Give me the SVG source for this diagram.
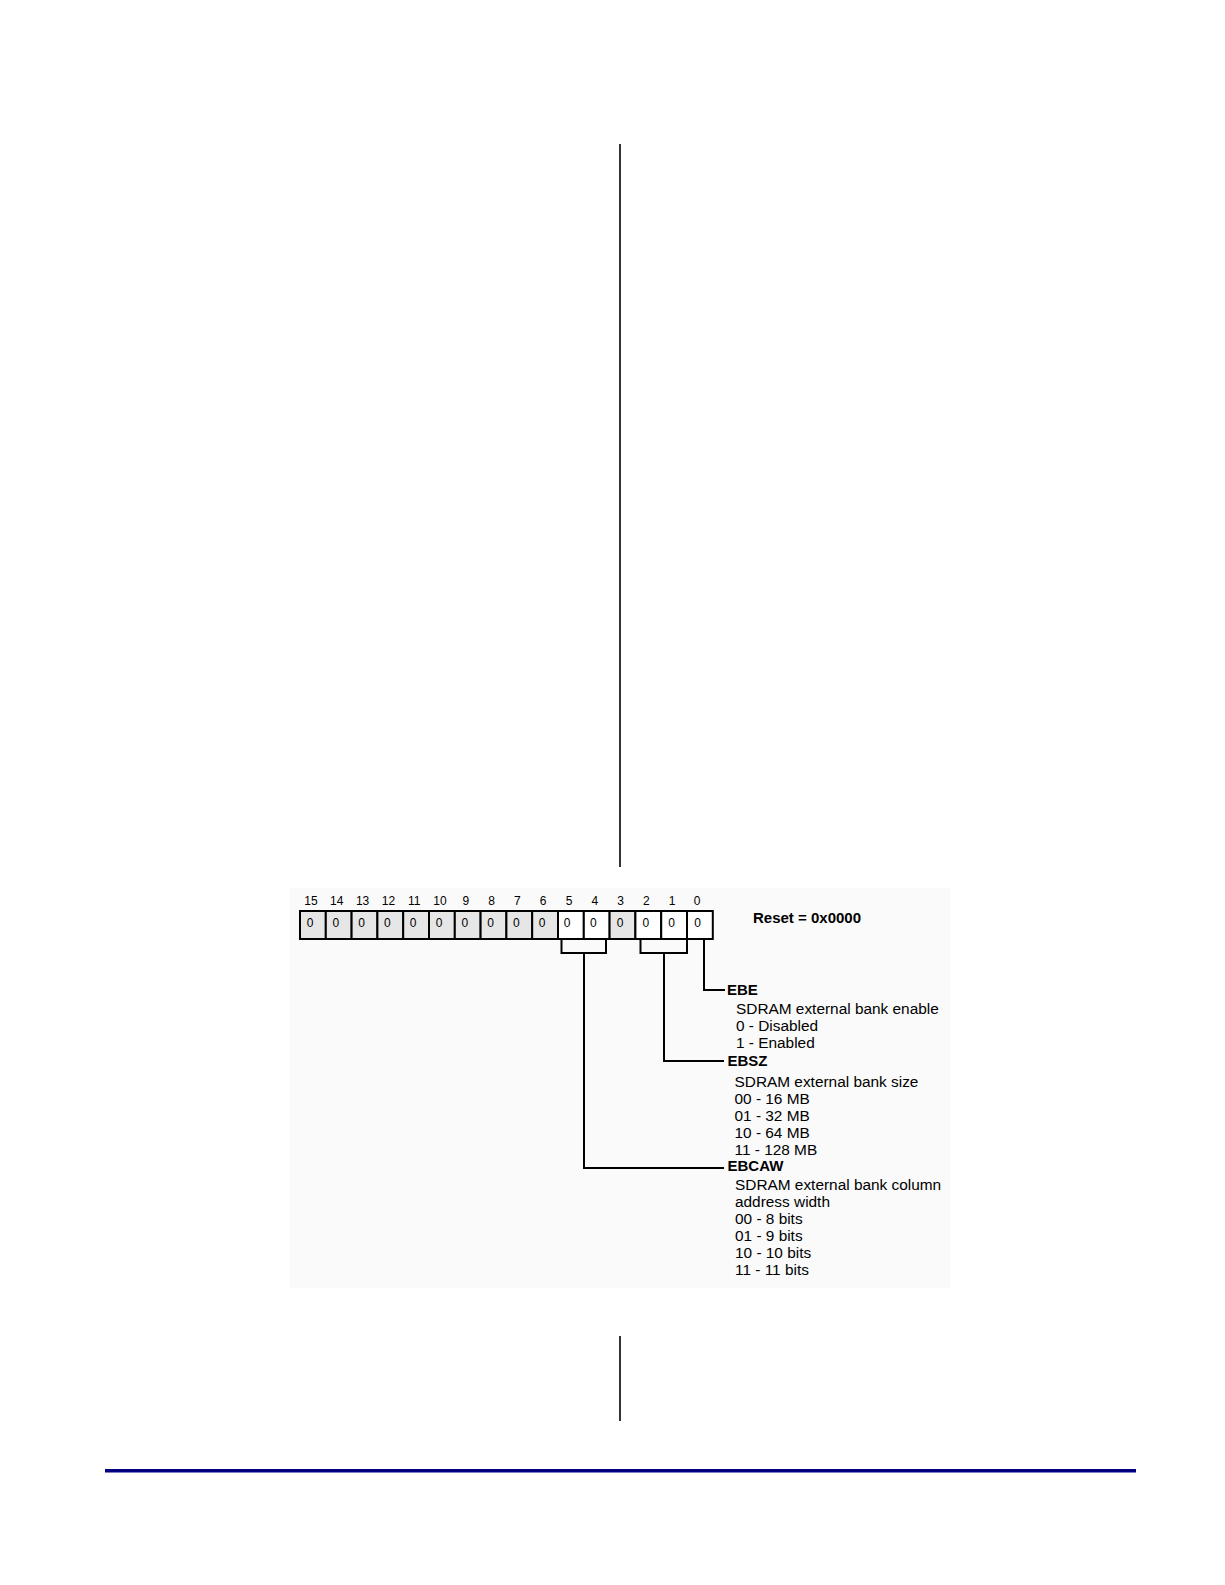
<svg xmlns="http://www.w3.org/2000/svg" width="1225" height="1585" viewBox="0 0 1225 1585">
<style>
.t{font-family:"Liberation Sans",Arial,sans-serif;fill:#000}
.bn{font-size:12px;text-anchor:middle}
.cv{font-size:12px;text-anchor:middle}
.d{font-size:15.4px}
.b{font-size:15px;font-weight:bold}
.cell{stroke:#000;stroke-width:2}
.g{fill:#e6e6e6}
.w{fill:#fff}
.ln{fill:none;stroke:#000;stroke-width:2}
</style>
<rect x="0" y="0" width="1225" height="1585" fill="#fff"/>
<rect x="290" y="888" width="660" height="400" fill="#fafafa"/>
<g id="page-lines">
<line x1="620" y1="144" x2="620" y2="867" stroke="#000" stroke-width="1.6"/>
<line x1="620" y1="1336" x2="620" y2="1421" stroke="#000" stroke-width="1.6"/>
<rect x="105" y="1469" width="1031" height="3.5" fill="#000080"/>
</g>
<g id="register">
<g id="bit-numbers" class="t bn">
<text x="311" y="905">15</text><text x="336.8" y="905">14</text><text x="362.6" y="905">13</text><text x="388.4" y="905">12</text>
<text x="414.2" y="905">11</text><text x="440" y="905">10</text><text x="465.8" y="905">9</text><text x="491.6" y="905">8</text>
<text x="517.4" y="905">7</text><text x="543.2" y="905">6</text><text x="569" y="905">5</text><text x="594.8" y="905">4</text>
<text x="620.6" y="905">3</text><text x="646.4" y="905">2</text><text x="672.2" y="905">1</text><text x="697" y="905">0</text>
</g>
<g id="cells">
<rect class="cell g" x="300" y="911" width="25.8" height="28"/>
<rect class="cell g" x="325.8" y="911" width="25.8" height="28"/>
<rect class="cell g" x="351.6" y="911" width="25.8" height="28"/>
<rect class="cell g" x="377.4" y="911" width="25.8" height="28"/>
<rect class="cell g" x="403.2" y="911" width="25.8" height="28"/>
<rect class="cell g" x="429" y="911" width="25.8" height="28"/>
<rect class="cell g" x="454.8" y="911" width="25.8" height="28"/>
<rect class="cell g" x="480.6" y="911" width="25.8" height="28"/>
<rect class="cell g" x="506.4" y="911" width="25.8" height="28"/>
<rect class="cell g" x="532.2" y="911" width="25.8" height="28"/>
<rect class="cell w" x="558" y="911" width="25.8" height="28"/>
<rect class="cell w" x="583.8" y="911" width="25.8" height="28"/>
<rect class="cell g" x="609.6" y="911" width="25.8" height="28"/>
<rect class="cell w" x="635.4" y="911" width="25.8" height="28"/>
<rect class="cell w" x="661.2" y="911" width="25.8" height="28"/>
<rect class="cell w" x="687" y="911" width="25.8" height="28"/>
</g>
<g id="cell-values" class="t cv">
<text x="310" y="927">0</text><text x="335.8" y="927">0</text><text x="361.6" y="927">0</text><text x="387.4" y="927">0</text>
<text x="413.2" y="927">0</text><text x="439" y="927">0</text><text x="464.8" y="927">0</text><text x="490.6" y="927">0</text>
<text x="516.4" y="927">0</text><text x="542.2" y="927">0</text><text x="567" y="927">0</text><text x="593.3" y="927">0</text>
<text x="620" y="927">0</text><text x="645.8" y="927">0</text><text x="671.6" y="927">0</text><text x="697.5" y="927">0</text>
</g>
<text id="reset" class="t b" x="753" y="923">Reset = 0x0000</text>
</g>
<g id="connectors" class="ln">
<path d="M704 940 V990 H725"/>
<path d="M640.5 940 V953 H687 V940"/>
<path d="M664 953 V1061 H724"/>
<path d="M561.5 940 V953 H606 V940"/>
<path d="M584 953 V1168 H724"/>
</g>
<g id="field-EBE" class="t">
<text class="b" x="727" y="995">EBE</text>
<text class="d" x="736" y="1014">SDRAM external bank enable</text>
<text class="d" x="736" y="1031">0 - Disabled</text>
<text class="d" x="736" y="1048">1 - Enabled</text>
</g>
<g id="field-EBSZ" class="t">
<text class="b" x="727.5" y="1066">EBSZ</text>
<text class="d" x="734.5" y="1087">SDRAM external bank size</text>
<text class="d" x="734.5" y="1104">00 - 16 MB</text>
<text class="d" x="734.5" y="1121">01 - 32 MB</text>
<text class="d" x="734.5" y="1138">10 - 64 MB</text>
<text class="d" x="734.5" y="1155">11 - 128 MB</text>
</g>
<g id="field-EBCAW" class="t">
<text class="b" x="727.5" y="1171">EBCAW</text>
<text class="d" x="735" y="1190">SDRAM external bank column</text>
<text class="d" x="735" y="1207">address width</text>
<text class="d" x="735" y="1224">00 - 8 bits</text>
<text class="d" x="735" y="1241">01 - 9 bits</text>
<text class="d" x="735" y="1258">10 - 10 bits</text>
<text class="d" x="735" y="1275">11 - 11 bits</text>
</g>
</svg>
